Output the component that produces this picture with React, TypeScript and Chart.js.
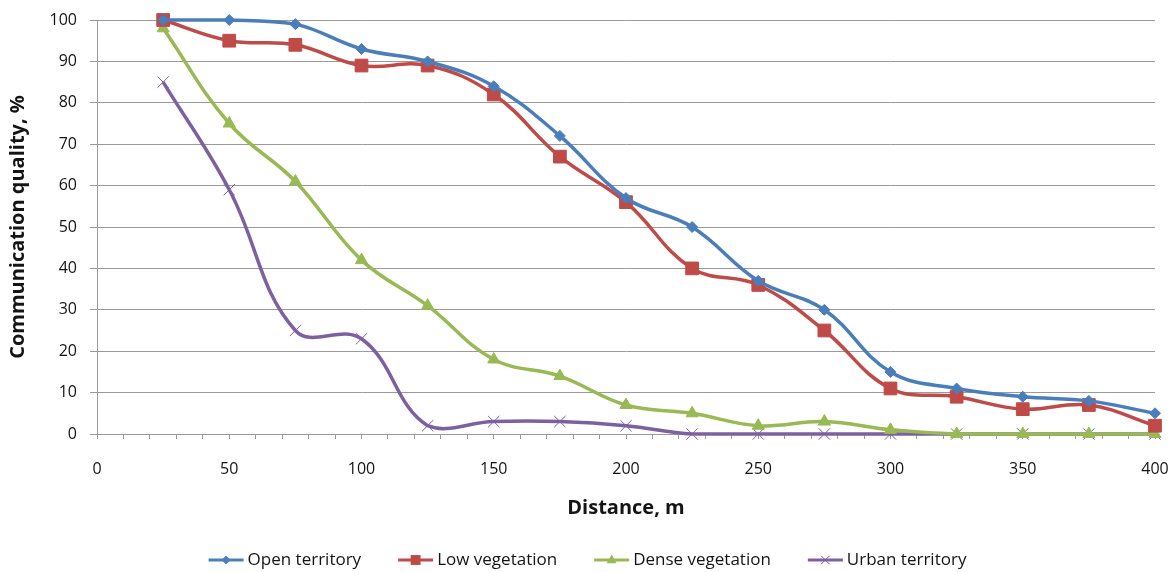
import React, { useEffect, useRef } from "react";
import { Chart, registerables } from "chart.js";

Chart.register(...registerables);

const distances = [25, 50, 75, 100, 125, 150, 175, 200, 225, 250, 275, 300, 325, 350, 375, 400];
const openTerritory = [100, 100, 99, 93, 90, 84, 72, 57, 50, 37, 30, 15, 11, 9, 8, 5];
const lowVegetation = [100, 95, 94, 89, 89, 82, 67, 56, 40, 36, 25, 11, 9, 6, 7, 2];
const denseVegetation = [98, 75, 61, 42, 31, 18, 14, 7, 5, 2, 3, 1, 0, 0, 0, 0];
const urbanTerritory = [85, 59, 25, 23, 2, 3, 3, 2, 0, 0, 0, 0, 0, 0, 0, 0];
const seriesNames = ["Open territory", "Low vegetation", "Dense vegetation", "Urban territory"];

const FONT = "'Open Sans', 'Liberation Sans', sans-serif";
const TEXT = "#141414";
const GRID = "#9a9a9a";

const colors = ["#4A7EBB", "#BE4B48", "#98B954", "#7D60A0"];
const styles = ["rectRot", "rect", "triangle", "crossRot"];
const radii = [5.5, 9, 7, 8];
const legendRadii = [4.5, 7, 5.5, 6];

function drawMarker(ctx: CanvasRenderingContext2D, style: string, x: number, y: number, r: number, color: string) {
  ctx.save();
  ctx.fillStyle = color;
  ctx.strokeStyle = color;
  ctx.lineWidth = 1;
  ctx.beginPath();
  if (style === "rectRot") {
    ctx.moveTo(x, y - r);
    ctx.lineTo(x + r, y);
    ctx.lineTo(x, y + r);
    ctx.lineTo(x - r, y);
    ctx.closePath();
    ctx.fill();
  } else if (style === "rect") {
    const s = r * Math.SQRT1_2;
    ctx.rect(x - s, y - s, 2 * s, 2 * s);
    ctx.fill();
  } else if (style === "triangle") {
    ctx.moveTo(x, y - r);
    ctx.lineTo(x + r * 0.9, y + r * 0.6);
    ctx.lineTo(x - r * 0.9, y + r * 0.6);
    ctx.closePath();
    ctx.fill();
  } else {
    const o = r * Math.SQRT1_2;
    ctx.moveTo(x - o, y - o);
    ctx.lineTo(x + o, y + o);
    ctx.moveTo(x + o, y - o);
    ctx.lineTo(x - o, y + o);
    ctx.stroke();
  }
  ctx.restore();
}

const bottomLegend = {
  id: "bottomLegend",
  afterDraw(chart: any) {
    const ctx: CanvasRenderingContext2D = chart.ctx;
    ctx.save();
    ctx.font = `17px ${FONT}`;
    const symW = 35;
    const gapSymText = 4;
    const gapItems = 37;
    const widths = seriesNames.map((n) => symW + gapSymText + ctx.measureText(n).width);
    const total = widths.reduce((a, b) => a + b, 0) + gapItems * (seriesNames.length - 1);
    let x = (chart.width - total) / 2 + 2;
    const y = 560;
    seriesNames.forEach((name, i) => {
      ctx.strokeStyle = colors[i];
      ctx.lineWidth = 3;
      ctx.beginPath();
      ctx.moveTo(x, y);
      ctx.lineTo(x + symW, y);
      ctx.stroke();
      drawMarker(ctx, styles[i], x + symW / 2, y, legendRadii[i], colors[i]);
      ctx.fillStyle = TEXT;
      ctx.textBaseline = "middle";
      ctx.textAlign = "left";
      ctx.fillText(name, x + symW + gapSymText, y);
      x += widths[i] + gapItems;
    });
    ctx.restore();
  },
};

function makeData(values: number[]) {
  return distances.map((d, i) => ({ x: d, y: values[i] }));
}

export default function App() {
  const canvasRef = useRef<HTMLCanvasElement | null>(null);

  useEffect(() => {
    document.body.style.margin = "0";
    const canvas = canvasRef.current;
    if (!canvas) return;
    const all = [openTerritory, lowVegetation, denseVegetation, urbanTerritory];
    const chart = new Chart(canvas, {
      type: "line",
      data: {
        datasets: all.map((vals, i) => ({
          label: seriesNames[i],
          data: makeData(vals),
          borderColor: colors[i],
          backgroundColor: colors[i],
          borderWidth: 3.5,
          pointStyle: styles[i] as any,
          pointRadius: radii[i],
          pointHoverRadius: radii[i],
          pointBorderWidth: 1,
          pointBorderColor: colors[i],
          pointBackgroundColor: colors[i],
          tension: 0.4,
          cubicInterpolationMode: "default" as const,
          fill: false,
          clip: false as any,
        })),
      },
      options: {
        responsive: false,
        animation: false,
        layout: { padding: { left: 0, right: 16, top: 20, bottom: 40 } },
        plugins: {
          legend: { display: false },
          tooltip: { enabled: false },
        },
        scales: {
          x: {
            type: "linear",
            min: 0,
            max: 400,
            afterFit(scale: any) {
              scale.height = 98;
              scale.paddingLeft = 0;
              scale.paddingRight = 0;
            },
            ticks: {
              stepSize: 10,
              autoSkip: false,
              maxTicksLimit: 100,
              maxRotation: 0,
              padding: 21,
              color: TEXT,
              font: { family: FONT, size: 16 },
              callback: (v: any) => (Number(v) % 50 === 0 ? String(v) : ""),
            },
            grid: {
              display: true,
              drawOnChartArea: false,
              drawTicks: true,
              tickLength: 5,
              color: GRID,
            },
            border: { display: true, color: GRID, width: 1 },
            title: {
              display: true,
              text: "Distance, m",
              color: TEXT,
              font: { family: FONT, size: 20, weight: "bold" },
              padding: { top: 0, bottom: 12 },
            },
          },
          y: {
            min: 0,
            max: 100,
            afterFit(scale: any) {
              scale.width = 97;
              scale.paddingTop = 0;
              scale.paddingBottom = 0;
            },
            ticks: {
              stepSize: 10,
              padding: 13,
              color: TEXT,
              font: { family: FONT, size: 16 },
            },
            grid: {
              color: GRID,
              lineWidth: 1,
              tickLength: 7,
            },
            border: { display: true, color: GRID, width: 1 },
            title: {
              display: true,
              text: "Communication quality, %",
              color: TEXT,
              font: { family: FONT, size: 20, weight: "bold" },
              padding: { top: 6, bottom: 0 },
            },
          },
        },
      },
      plugins: [bottomLegend],
    });
    return () => chart.destroy();
  }, []);

  return (
    <div style={{ position: "absolute", left: 0, top: 0, width: 1171, height: 572, background: "#fff" }}>
      <canvas ref={canvasRef} width={1171} height={572} />
    </div>
  );
}
